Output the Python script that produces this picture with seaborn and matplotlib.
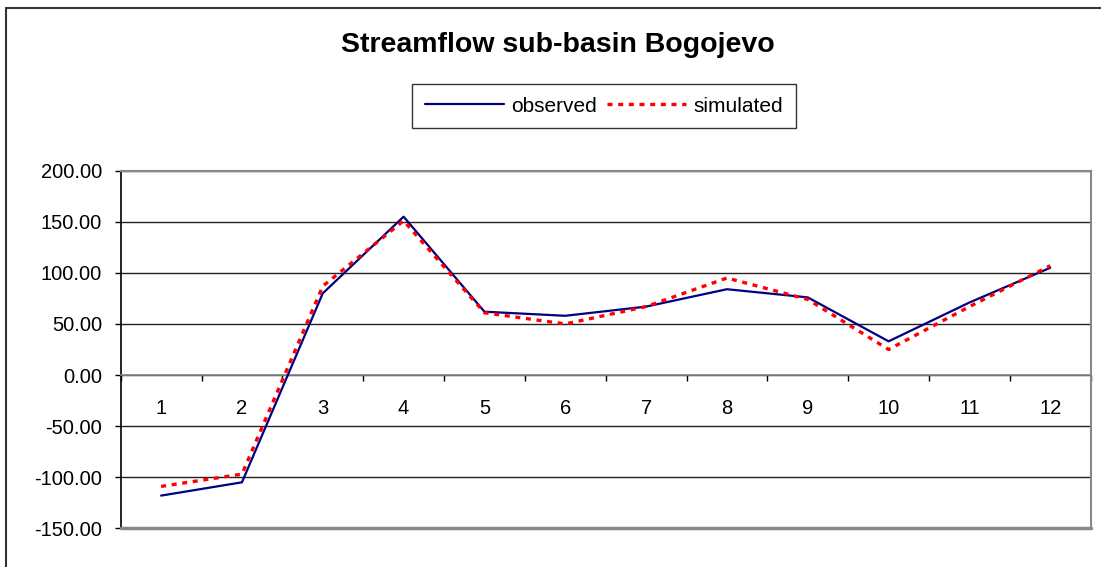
import numpy as np
import pandas as pd
import matplotlib
matplotlib.use("Agg")
import matplotlib.pyplot as plt
from matplotlib.lines import Line2D
from matplotlib.ticker import FormatStrFormatter, FixedLocator
import seaborn as sns

# values
months = [1, 2, 3, 4, 5, 6, 7, 8, 9, 10, 11, 12]
observed = [-118, -105, 80, 155, 62, 58, 67, 84, 76, 33, 71, 105]
simulated = [-109, -97, 87, 151, 61, 50, 67, 95, 74, 25, 67, 107]
y_ticks = [-150, -100, -50, 0, 50, 100, 150, 200]

sns.set_style("white")
plt.rcParams["font.family"] = ["Liberation Sans", "DejaVu Sans"]
plt.rcParams["text.color"] = "black"
plt.rcParams["xtick.color"] = "black"
plt.rcParams["ytick.color"] = "black"

df = pd.DataFrame({"month": months, "observed": observed, "simulated": simulated})

fig = plt.figure(figsize=(11.01, 5.67), dpi=100)
ax = fig.add_axes([120.7 / 1101, 1 - 528.3 / 567, 970 / 1101, 357.6 / 567])

sns.lineplot(data=df, x="month", y="observed", ax=ax, color="#000080",
             lw=1.6, label="observed", zorder=3)
sns.lineplot(data=df, x="month", y="simulated", ax=ax, color="#ff0000",
             lw=2.4, linestyle=(0, (1.5, 1.7)), label="simulated", zorder=4)

ax.set_xlim(0.5, 12.5)
ax.set_ylim(-150, 200)
ax.set_xlabel("")
ax.set_ylabel("")

# y axis
ax.yaxis.set_major_locator(FixedLocator(y_ticks))
ax.yaxis.set_major_formatter(FormatStrFormatter("%.2f"))
ax.tick_params(axis="y", direction="out", length=4.3, width=1, color="black",
               labelcolor="black", pad=9, labelsize=14.5, left=True)
ax.grid(axis="y", color="#222222", lw=1)

# x axis crossing at zero, ticks between categories
ax.spines["bottom"].set_position(("data", 0))
ax.spines["bottom"].set_color("#888888")
ax.spines["bottom"].set_linewidth(1.2)
ax.set_xticks(np.arange(0.5, 13, 1))
ax.set_xticklabels([])
ax.set_xticks(months, minor=True)
ax.set_xticklabels([str(m) for m in months], minor=True)
ax.tick_params(axis="x", which="major", direction="out", length=4.5, width=1,
               color="black", bottom=True)
ax.tick_params(axis="x", which="minor", length=0, pad=17, labelsize=14.5,
               labelcolor="black")

ax.spines["left"].set_color("black")
ax.spines["left"].set_linewidth(1.2)
for s in ["top", "right"]:
    ax.spines[s].set_color("#888888")
    ax.spines[s].set_linewidth(1.5)
ax.axhline(-150, color="#888888", lw=2.5, zorder=5, clip_on=False)

ax.get_legend().remove()
handles, labels = ax.get_legend_handles_labels()
leg = fig.legend(handles, labels, loc="center", bbox_to_anchor=(604 / 1101, 1 - 106 / 567),
                 ncol=2, fontsize=15, frameon=True, fancybox=False,
                 edgecolor="black", handlelength=3.8, handletextpad=0.35,
                 columnspacing=0.5, borderpad=0.6)
leg.get_frame().set_linewidth(1.0)
for t in leg.get_texts():
    t.set_color("black")

fig.text(558 / 1101, 1 - 45 / 567, "Streamflow sub-basin Bogojevo", ha="center",
         va="center", fontsize=20.5, fontweight="bold", color="black")

# outer chart border (left and top visible)
fig.add_artist(Line2D([5.7 / 1101, 5.7 / 1101], [0, 1 - 7.5 / 567],
                      transform=fig.transFigure, color="#333333", lw=1.5))
fig.add_artist(Line2D([5.7 / 1101, 1], [1 - 7.5 / 567, 1 - 7.5 / 567],
                      transform=fig.transFigure, color="#333333", lw=1.5))

fig.savefig("out.png", dpi=100)
